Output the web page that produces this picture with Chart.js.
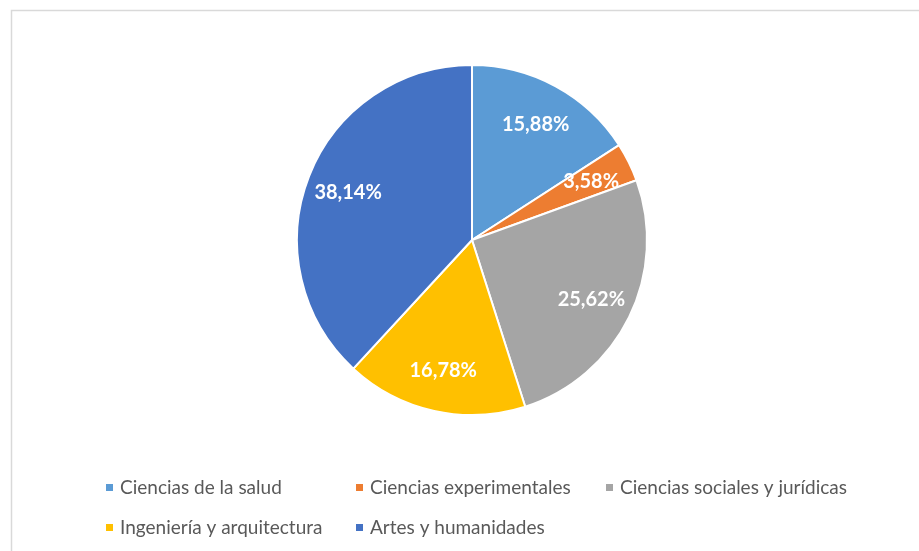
<!DOCTYPE html>
<html>
<head>
<meta charset="utf-8">
<script src="https://cdn.jsdelivr.net/npm/chart.js@4"></script>
<style>
  html, body { margin: 0; padding: 0; background: #fff; }
  #wrap { width: 919px; height: 551px; }
</style>
</head>
<body>
<div id="wrap"><canvas id="myChart" width="919" height="551"></canvas></div>
<script>
// data
var categories = ['Ciencias de la salud', 'Ciencias experimentales', 'Ciencias sociales y jurídicas',
                  'Ingeniería y arquitectura', 'Artes y humanidades'];
var shares = [15.88, 3.58, 25.62, 16.78, 38.14];
var colors = ['#5B9BD5', '#ED7D31', '#A5A5A5', '#FFC000', '#4472C4'];

// frame round the chart, cut off at right and bottom like the picture
var frame = {
  id: 'frame',
  beforeDraw: function(chart) {
    var ctx = chart.ctx;
    ctx.save();
    ctx.strokeStyle = '#d9d9d9';
    ctx.lineWidth = 1.5;
    ctx.strokeRect(11.5, 10.5, 950, 600);
    ctx.restore();
  }
};

// percentage labels inside the slices
var sliceLabels = {
  id: 'sliceLabels',
  afterDatasetsDraw: function(chart) {
    var ctx = chart.ctx;
    var arcs = chart.getDatasetMeta(0).data;
    ctx.save();
    ctx.fillStyle = '#ffffff';
    ctx.font = 'bold 20px Lato';
    ctx.textAlign = 'center';
    ctx.textBaseline = 'middle';
    arcs.forEach(function(arc, i) {
      var p = arc.getProps(['x', 'y', 'startAngle', 'endAngle', 'outerRadius'], true);
      var mid = (p.startAngle + p.endAngle) / 2;
      var d = p.outerRadius * 0.76;
      var txt = shares[i].toFixed(2).replace('.', ',') + '%';
      ctx.fillText(txt, p.x + Math.cos(mid) * d, p.y + Math.sin(mid) * d + 1);
    });
    ctx.restore();
  }
};

// legend laid out in columns like the original
var gridLegend = {
  id: 'gridLegend',
  afterDraw: function(chart) {
    var ctx = chart.ctx;
    ctx.save();
    ctx.font = '19px Lato';
    ctx.textBaseline = 'middle';
    categories.forEach(function(name, i) {
      var col = i % 3, row = Math.floor(i / 3);
      var x = 106 + col * 250;
      var y = 484 + row * 40;
      ctx.fillStyle = colors[i];
      ctx.fillRect(x, y, 7, 7);
      ctx.fillStyle = '#595959';
      ctx.fillText(name, x + 14, y + 4);
    });
    ctx.restore();
  }
};

var ctx = document.getElementById('myChart').getContext('2d');
var myChart = new Chart(ctx, {
  type: 'pie',
  data: {
    labels: categories,
    datasets: [{
      data: shares,
      backgroundColor: colors,
      borderColor: '#ffffff',
      borderWidth: 2
    }]
  },
  options: {
    responsive: false,
    animation: false,
    layout: { padding: { top: 64, bottom: 135, left: 25, right: 0 } },
    plugins: {
      legend: { display: false },
      tooltip: { enabled: false }
    }
  },
  plugins: [frame, sliceLabels, gridLegend]
});
</script>
</body>
</html>
